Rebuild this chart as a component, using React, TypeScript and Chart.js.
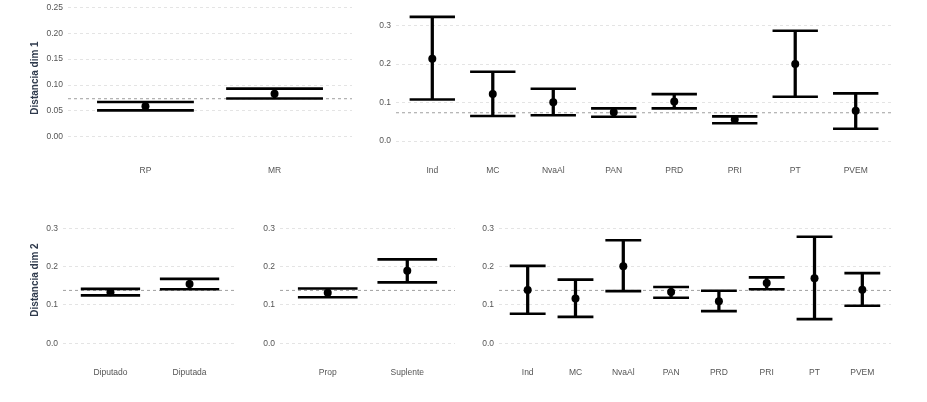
import { useEffect, useRef } from 'react'
import { Chart, registerables } from 'chart.js'

Chart.register(...registerables)

const FONT = '"Liberation Sans", Arial, sans-serif'

// distancia dim 1
const tipos = ['RP', 'MR']
const tipoMedia1 = [0.059, 0.083]
const tipoInf1 = [0.051, 0.074]
const tipoSup1 = [0.067, 0.093]

const partidos = ['Ind', 'MC', 'NvaAl', 'PAN', 'PRD', 'PRI', 'PT', 'PVEM']
const partidoMedia1 = [0.214, 0.122, 0.101, 0.075, 0.103, 0.056, 0.2, 0.079]
const partidoInf1 = [0.108, 0.065, 0.067, 0.063, 0.085, 0.046, 0.115, 0.032]
const partidoSup1 = [0.323, 0.18, 0.136, 0.085, 0.122, 0.064, 0.287, 0.124]
const referencia1 = 0.0735

// distancia dim 2
const sexos = ['Diputado', 'Diputada']
const sexoMedia2 = [0.133, 0.155]
const sexoInf2 = [0.125, 0.141]
const sexoSup2 = [0.142, 0.168]

const cargos = ['Prop', 'Suplente']
const cargoMedia2 = [0.132, 0.189]
const cargoInf2 = [0.12, 0.159]
const cargoSup2 = [0.143, 0.219]

const partidoMedia2 = [0.139, 0.117, 0.201, 0.134, 0.11, 0.157, 0.17, 0.14]
const partidoInf2 = [0.077, 0.069, 0.136, 0.119, 0.084, 0.141, 0.063, 0.098]
const partidoSup2 = [0.202, 0.166, 0.269, 0.147, 0.137, 0.172, 0.278, 0.183]
const referencia2 = 0.138

const ticks1a = [0, 0.05, 0.1, 0.15, 0.2, 0.25]
const ticks1b = [0, 0.1, 0.2, 0.3]
const ticks2 = [0, 0.1, 0.2, 0.3]

interface PanelProps {
  labels: string[]
  media: number[]
  inf: number[]
  sup: number[]
  ref: number
  yTicks: number[]
  decimals: number
  yMin: number
  yMax: number
  title?: string
  left: number
  top: number
  width: number
  height: number
  padTop: number
  yAxisW: number
  xAxisH: number
  labelPad: number
}

function Panel(p: PanelProps) {
  const canvasRef = useRef<HTMLCanvasElement>(null)

  useEffect(() => {
    if (!canvasRef.current) return
    const n = p.labels.length

    // linea punteada de referencia
    const refLine = {
      id: 'refLine',
      beforeDatasetsDraw(chart: any) {
        const { ctx, chartArea, scales } = chart
        const y = scales.y.getPixelForValue(p.ref)
        ctx.save()
        ctx.strokeStyle = '#a0a0a0'
        ctx.lineWidth = 1
        ctx.setLineDash([3, 3])
        ctx.beginPath()
        ctx.moveTo(chartArea.left, y)
        ctx.lineTo(chartArea.right, y)
        ctx.stroke()
        ctx.restore()
      },
    }

    // ancho de los topes: 0.75 de la separacion entre categorias
    const capR = (c: any) => {
      const s = c.chart.scales.x
      return Math.abs(s.getPixelForValue(1.375) - s.getPixelForValue(1))
    }

    const capStyle = {
      type: 'line' as const,
      showLine: false,
      pointStyle: 'line' as const,
      pointRadius: capR,
      pointBorderWidth: 2.6,
      pointBorderColor: '#000',
      pointBackgroundColor: '#000',
    }

    const chart = new Chart(canvasRef.current, {
      type: 'bar',
      data: {
        datasets: [
          {
            type: 'line',
            data: p.media.map((v, i) => ({ x: i + 1, y: v })),
            showLine: false,
            pointStyle: 'circle',
            pointRadius: 4,
            pointBackgroundColor: '#000',
            pointBorderColor: '#000',
            pointBorderWidth: 0,
          },
          { ...capStyle, data: p.sup.map((v, i) => ({ x: i + 1, y: v })) },
          { ...capStyle, data: p.inf.map((v, i) => ({ x: i + 1, y: v })) },
          {
            type: 'bar',
            data: p.labels.map((_, i) => ({ x: i + 1, y: [p.inf[i], p.sup[i]] })) as any,
            backgroundColor: '#000',
            borderWidth: 0,
            barThickness: 2.6,
          },
        ],
      },
      options: {
        responsive: false,
        animation: false,
        layout: { padding: { top: p.padTop, left: 0, right: 0, bottom: 0 }, autoPadding: false },
        plugins: {
          legend: { display: false },
          tooltip: { enabled: false },
        },
        scales: {
          x: {
            type: 'linear',
            min: 0.4,
            max: n + 0.6,
            offset: false,
            afterBuildTicks: (s: any) => {
              s.ticks = p.labels.map((_, i) => ({ value: i + 1 }))
            },
            afterFit: (s: any) => {
              s.height = p.xAxisH
              s.paddingLeft = 0
              s.paddingRight = 0
            },
            ticks: {
              callback: (v: any) => p.labels[Math.round(v) - 1] ?? '',
              autoSkip: false,
              maxRotation: 0,
              padding: p.labelPad,
              color: '#555',
              font: { family: FONT, size: 8.5 },
            },
            grid: { display: false, drawTicks: false },
            border: { display: false },
          },
          y: {
            type: 'linear',
            min: p.yMin,
            max: p.yMax,
            afterBuildTicks: (s: any) => {
              s.ticks = p.yTicks.map(v => ({ value: v }))
            },
            afterFit: (s: any) => {
              s.width = p.yAxisW
              s.paddingTop = 0
              s.paddingBottom = 0
            },
            ticks: {
              callback: (v: any) => Number(v).toFixed(p.decimals),
              padding: 5,
              color: '#555',
              font: { family: FONT, size: 8.5 },
            },
            grid: { color: '#e4e4e4', lineWidth: 1, drawTicks: false },
            border: { display: false, dash: [3, 3] },
            title: {
              display: !!p.title,
              text: p.title ?? '',
              color: '#2f3a4c',
              font: { family: FONT, size: 10, weight: 'bold' },
              padding: { top: 29, bottom: 0 },
            },
          },
        },
      },
      plugins: [refLine],
    })

    return () => chart.destroy()
  }, [])

  return (
    <div style={{ position: 'absolute', left: p.left, top: p.top, width: p.width, height: p.height }}>
      <canvas ref={canvasRef} width={p.width} height={p.height} style={{ display: 'block' }} />
    </div>
  )
}

export default function App() {
  return (
    <div style={{ position: 'absolute', left: 0, top: 0, width: 927, height: 402, background: '#fff' }}>
      <Panel
        labels={tipos} media={tipoMedia1} inf={tipoInf1} sup={tipoSup1} ref={referencia1}
        yTicks={ticks1a} decimals={2} yMin={-0.0257} yMax={0.2528} title="Distancia dim 1"
        left={0} top={0} width={352} height={185} padTop={6} yAxisW={68} xAxisH={35} labelPad={16}
      />
      <Panel
        labels={partidos} media={partidoMedia1} inf={partidoInf1} sup={partidoSup1} ref={referencia1}
        yTicks={ticks1b} decimals={1} yMin={-0.0234} yMax={0.3512}
        left={360} top={0} width={532} height={185} padTop={6} yAxisW={36} xAxisH={35} labelPad={16}
      />
      <Panel
        labels={sexos} media={sexoMedia2} inf={sexoInf2} sup={sexoSup2} ref={referencia2}
        yTicks={ticks2} decimals={1} yMin={-0.0305} yMax={0.3608} title="Distancia dim 2"
        left={0} top={205} width={237} height={185} padTop={0} yAxisW={63} xAxisH={35} labelPad={13}
      />
      <Panel
        labels={cargos} media={cargoMedia2} inf={cargoInf2} sup={cargoSup2} ref={referencia2}
        yTicks={ticks2} decimals={1} yMin={-0.0305} yMax={0.3608}
        left={240} top={205} width={215} height={185} padTop={0} yAxisW={40} xAxisH={35} labelPad={13}
      />
      <Panel
        labels={partidos} media={partidoMedia2} inf={partidoInf2} sup={partidoSup2} ref={referencia2}
        yTicks={ticks2} decimals={1} yMin={-0.0305} yMax={0.3608}
        left={460} top={205} width={431} height={185} padTop={0} yAxisW={39} xAxisH={35} labelPad={13}
      />
    </div>
  )
}
